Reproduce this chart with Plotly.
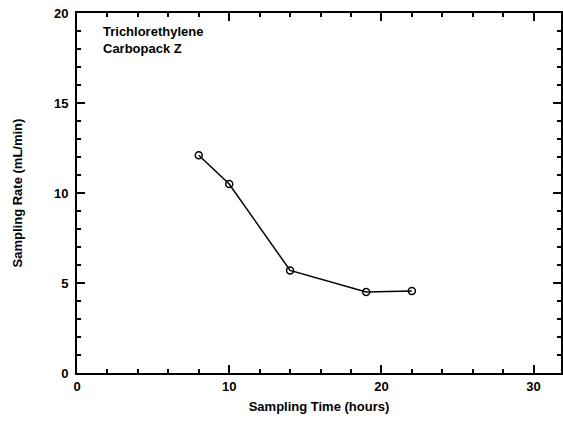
import plotly.graph_objects as go

sampling_time = [8, 10, 14, 19, 22]
sampling_rate = [12.1, 10.5, 5.7, 4.5, 4.55]
x_ticks = [0, 10, 20, 30]
y_ticks = [0, 5, 10, 15, 20]

fig = go.Figure()
fig.add_trace(go.Scatter(
    x=sampling_time, y=sampling_rate, mode="lines+markers",
    line=dict(color="black", width=1.5),
    marker=dict(symbol="circle-open", size=7, color="black", line=dict(width=1.5)),
    showlegend=False,
))

font = dict(family="Liberation Sans, Arial", size=13, color="black")
axis_common = dict(
    showgrid=False, zeroline=False, showline=True, linecolor="black", linewidth=2,
    ticks="inside", ticklen=8, tickwidth=2, tickcolor="black", mirror="allticks",
    tickfont=dict(family="Liberation Sans, Arial", size=13, color="black", weight="bold"),
)
fig.update_xaxes(range=[0, 31.8], tickvals=x_ticks,
                 minor=dict(dtick=2, ticklen=4, tickwidth=1.5, ticks="inside", tickcolor="black"),
                 title=dict(text="<b>Sampling Time (hours)</b>", font=font, standoff=9),
                 **axis_common)
fig.update_yaxes(range=[0, 20], tickvals=y_ticks, ticklabelstandoff=4,
                 minor=dict(dtick=1, ticklen=4, tickwidth=1.5, ticks="inside", tickcolor="black"),
                 title=dict(text="<b>Sampling Rate (mL/min)</b>", font=font, standoff=28),
                 **axis_common)

fig.add_annotation(x=0.05, y=0.975, xref="paper", yref="paper", xanchor="left", yanchor="top",
                   text="<b>Trichlorethylene<br>Carbopack Z</b>", showarrow=False, align="left",
                   font=dict(family="Liberation Sans, Arial", size=13, color="black"))

fig.update_layout(width=563, height=442, margin=dict(l=77, r=0, t=13, b=69),
                  plot_bgcolor="white", paper_bgcolor="white")
fig.write_html("out.html")
